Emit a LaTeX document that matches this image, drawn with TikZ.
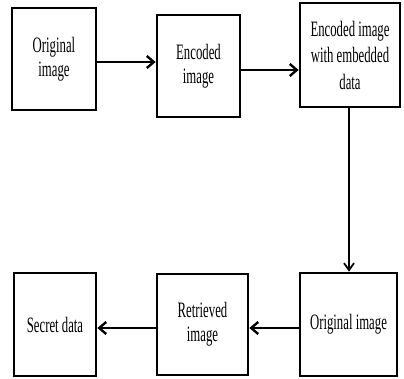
\documentclass[tikz,border=0pt]{standalone}
\usepackage{fontspec}
\setmainfont{Liberation Serif}[FakeStretch=0.58]
\usetikzlibrary{arrows.meta}
\tikzset{
  stagebox/.style={draw=black, line width=2.7pt, fill=white, inner sep=0pt,
    align=center, font=\fontsize{22}{24}\selectfont},
  flowarrow/.style={line width=2.7pt, -{Straight Barb[length=7pt,width=12pt,line width=2.4pt]}},
  downarrow/.style={line width=1.7pt, -{Straight Barb[length=7pt,width=10pt,line width=1.8pt]}}
}
\begin{document}
\begin{tikzpicture}[x=1pt,y=-1pt]
  \useasboundingbox (0,0) rectangle (404,378);
  % top row
  \node[stagebox, minimum width=84pt, minimum height=102pt] (orig) at (54,59) {Original\\image};
  \node[stagebox, minimum width=83pt, minimum height=102pt] (enc) at (198.5,66) {Encoded\\image};
  \node[stagebox, minimum width=100pt, minimum height=104pt,
        font=\fontsize{22}{26.5}\selectfont] (emb) at (350,55) {Encoded image\\with embedded\\data};
  % bottom row
  \node[stagebox, minimum width=82pt, minimum height=103pt] (secret) at (55,324.5) {Secret data};
  \node[stagebox, minimum width=91pt, minimum height=101pt] (retr) at (202.5,324.5) {Retrieved\\image};
  \node[stagebox, minimum width=97pt, minimum height=103pt] (orig2) at (348.5,324.5) {Original image};
  % connectors
  \draw[flowarrow] ([yshift=-3pt]orig.east) -- ([yshift=-3pt]orig.east -| enc.west);
  \draw[flowarrow] ([yshift=-4pt]enc.east) -- ([yshift=-4pt]enc.east -| emb.west);
  \draw[downarrow] ([xshift=-1pt]emb.south) -- ([xshift=-1pt]emb.south |- orig2.north);
  \draw[flowarrow] ([yshift=-3.5pt]orig2.west) -- ([yshift=-3.5pt]orig2.west -| retr.east);
  \draw[flowarrow] ([yshift=-3.5pt]retr.west) -- ([yshift=-3.5pt]retr.west -| secret.east);
\end{tikzpicture}
\end{document}
